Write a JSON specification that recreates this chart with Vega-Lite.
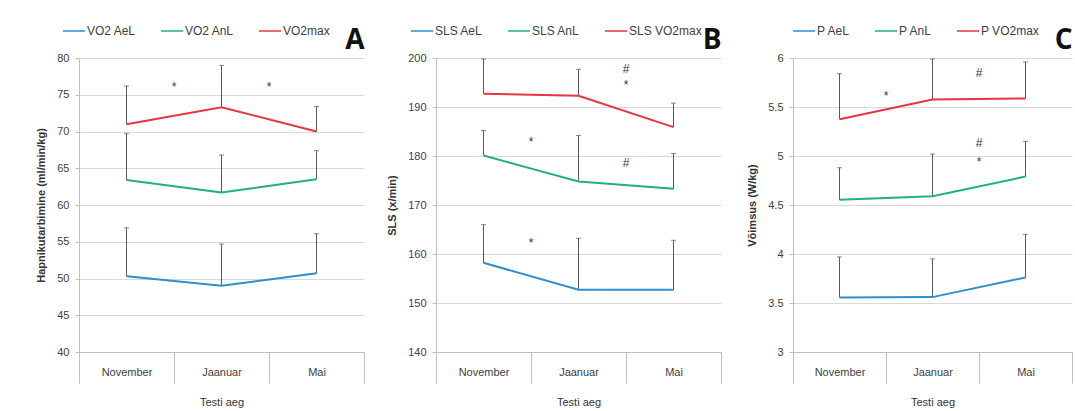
{
  "$schema": "https://vega.github.io/schema/vega-lite/v6.json",
  "padding": {"left": 35, "top": 19, "right": 0, "bottom": 0},
  "background": "white",
  "datasets": {
    "A": [
      {"m": "November", "k": 1, "s": "VO2 AeL", "v": 50.3, "u": 56.9},
      {"m": "Jaanuar", "k": 2, "s": "VO2 AeL", "v": 49.0, "u": 54.7},
      {"m": "Mai", "k": 3, "s": "VO2 AeL", "v": 50.7, "u": 56.1},
      {"m": "November", "k": 1, "s": "VO2 AnL", "v": 63.4, "u": 69.7},
      {"m": "Jaanuar", "k": 2, "s": "VO2 AnL", "v": 61.7, "u": 66.8},
      {"m": "Mai", "k": 3, "s": "VO2 AnL", "v": 63.5, "u": 67.4},
      {"m": "November", "k": 1, "s": "VO2max", "v": 71.0, "u": 76.2},
      {"m": "Jaanuar", "k": 2, "s": "VO2max", "v": 73.3, "u": 79.0},
      {"m": "Mai", "k": 3, "s": "VO2max", "v": 70.0, "u": 73.4}
    ],
    "Aa": [
      {"m": "Jaanuar", "t": "*", "v": 76.0},
      {"m": "Mai", "t": "*", "v": 76.0}
    ],
    "B": [
      {"m": "November", "k": 1, "s": "SLS AeL", "v": 158.2, "u": 166.0},
      {"m": "Jaanuar", "k": 2, "s": "SLS AeL", "v": 152.7, "u": 163.2},
      {"m": "Mai", "k": 3, "s": "SLS AeL", "v": 152.7, "u": 162.8},
      {"m": "November", "k": 1, "s": "SLS AnL", "v": 180.1, "u": 185.2},
      {"m": "Jaanuar", "k": 2, "s": "SLS AnL", "v": 174.8, "u": 184.2},
      {"m": "Mai", "k": 3, "s": "SLS AnL", "v": 173.3, "u": 180.5},
      {"m": "November", "k": 1, "s": "SLS VO2max", "v": 192.7, "u": 199.8},
      {"m": "Jaanuar", "k": 2, "s": "SLS VO2max", "v": 192.3, "u": 197.7},
      {"m": "Mai", "k": 3, "s": "SLS VO2max", "v": 185.9, "u": 190.8}
    ],
    "Ba": [
      {"m": "Jaanuar", "t": "*", "v": 182.9},
      {"m": "Jaanuar", "t": "*", "v": 162.2},
      {"m": "Mai", "t": "#", "v": 197.7},
      {"m": "Mai", "t": "*", "v": 194.5},
      {"m": "Mai", "t": "#", "v": 178.6}
    ],
    "C": [
      {"m": "November", "k": 1, "s": "P AeL", "v": 3.556, "u": 3.97},
      {"m": "Jaanuar", "k": 2, "s": "P AeL", "v": 3.56, "u": 3.95},
      {"m": "Mai", "k": 3, "s": "P AeL", "v": 3.76, "u": 4.2},
      {"m": "November", "k": 1, "s": "P AnL", "v": 4.553, "u": 4.88},
      {"m": "Jaanuar", "k": 2, "s": "P AnL", "v": 4.59, "u": 5.02},
      {"m": "Mai", "k": 3, "s": "P AnL", "v": 4.79, "u": 5.15},
      {"m": "November", "k": 1, "s": "P VO2max", "v": 5.375, "u": 5.84},
      {"m": "Jaanuar", "k": 2, "s": "P VO2max", "v": 5.577, "u": 5.99},
      {"m": "Mai", "k": 3, "s": "P VO2max", "v": 5.587, "u": 5.96}
    ],
    "Ca": [
      {"m": "Jaanuar", "t": "*", "v": 5.61},
      {"m": "Mai", "t": "#", "v": 5.85},
      {"m": "Mai", "t": "#", "v": 5.13},
      {"m": "Mai", "t": "*", "v": 4.94}
    ]
  },
  "bounds": "flush",
  "spacing": 72,
  "resolve": {"scale": {"color": "independent", "y": "independent", "x": "independent"}, "legend": {"color": "independent"}, "axis": {"x": "independent", "y": "independent"}},
  "hconcat": [
    {
      "width": 285,
      "height": 294,
      "title": {"text": "A", "anchor": "end", "fontSize": 28, "fontWeight": "bold", "font": "Open Sans", "color": "#111111", "dy": 40},
      "encoding": {
        "x": {"field": "m", "type": "nominal", "scale": {"domain": ["November", "Jaanuar", "Mai"], "paddingInner": 0, "paddingOuter": 0},
              "axis": {"title": "Testi aeg", "labelAngle": 0, "tickBand": "extent", "tickSize": 31, "labelPadding": -17, "titlePadding": 13, "grid": false}},
        "y": {"field": "v", "type": "quantitative", "scale": {"domain": [40, 80], "nice": false, "zero": false},
              "axis": {"title": "Hapnikutarbimine  (ml/min/kg)", "values": [40, 45, 50, 55, 60, 65, 70, 75, 80], "format": "~r"}}
      },
      "layer": [
        {
          "data": {"name": "A"},
          "mark": {"type": "rule", "color": "#595959", "strokeWidth": 1},
          "encoding": {"y2": {"field": "u"}}
        },
        {
          "data": {"name": "A"},
          "mark": {"type": "tick", "color": "#595959", "size": 5, "thickness": 1, "orient": "horizontal"},
          "encoding": {"y": {"field": "u", "type": "quantitative", "scale": {"domain": [40, 80], "nice": false, "zero": false},
              "axis": {"title": "Hapnikutarbimine  (ml/min/kg)", "values": [40, 45, 50, 55, 60, 65, 70, 75, 80], "format": "~r"}}}
        },
        {
          "data": {"name": "A"},
          "mark": {"type": "line", "strokeWidth": 2},
          "encoding": {
            "color": {"field": "s", "type": "nominal", "scale": {"domain": ["VO2 AeL", "VO2 AnL", "VO2max"], "range": ["#2E8ECF", "#1FB27D", "#E8353E"]},
                      "legend": {"title": null, "orient": "none", "legendX": -17, "legendY": -39, "direction": "horizontal"}},
            "order": {"field": "k"}
          }
        },
        {
          "data": {"name": "Aa"},
          "mark": {"type": "text", "fontSize": 12, "fill": "#333333", "baseline": "middle"},
          "encoding": {
            "x": {"field": "m", "type": "nominal", "bandPosition": 0},
            "text": {"field": "t"}
          }
        }
      ]
    },
    {
      "width": 285,
      "height": 294,
      "title": {"text": "B", "anchor": "end", "fontSize": 28, "fontWeight": "bold", "font": "Open Sans", "color": "#111111", "dy": 40},
      "encoding": {
        "x": {"field": "m", "type": "nominal", "scale": {"domain": ["November", "Jaanuar", "Mai"], "paddingInner": 0, "paddingOuter": 0},
              "axis": {"title": "Testi aeg", "labelAngle": 0, "tickBand": "extent", "tickSize": 31, "labelPadding": -17, "titlePadding": 13, "grid": false}},
        "y": {"field": "v", "type": "quantitative", "scale": {"domain": [140, 200], "nice": false, "zero": false},
              "axis": {"title": "SLS (x/min)", "values": [140, 150, 160, 170, 180, 190, 200], "format": "~r"}}
      },
      "layer": [
        {
          "data": {"name": "B"},
          "mark": {"type": "rule", "color": "#595959", "strokeWidth": 1},
          "encoding": {"y2": {"field": "u"}}
        },
        {
          "data": {"name": "B"},
          "mark": {"type": "tick", "color": "#595959", "size": 5, "thickness": 1, "orient": "horizontal"},
          "encoding": {"y": {"field": "u", "type": "quantitative", "scale": {"domain": [140, 200], "nice": false, "zero": false},
              "axis": {"title": "SLS (x/min)", "values": [140, 150, 160, 170, 180, 190, 200], "format": "~r"}}}
        },
        {
          "data": {"name": "B"},
          "mark": {"type": "line", "strokeWidth": 2},
          "encoding": {
            "color": {"field": "s", "type": "nominal", "scale": {"domain": ["SLS AeL", "SLS AnL", "SLS VO2max"], "range": ["#2E8ECF", "#1FB27D", "#E8353E"]},
                      "legend": {"title": null, "orient": "none", "legendX": -26, "legendY": -39, "direction": "horizontal"}},
            "order": {"field": "k"}
          }
        },
        {
          "data": {"name": "Ba"},
          "mark": {"type": "text", "fontSize": 12, "fill": "#333333", "baseline": "middle"},
          "encoding": {
            "x": {"field": "m", "type": "nominal", "bandPosition": 0},
            "text": {"field": "t"}
          }
        }
      ]
    },
    {
      "width": 279,
      "height": 294,
      "title": {"text": "C", "anchor": "end", "fontSize": 28, "fontWeight": "bold", "font": "Open Sans", "color": "#111111", "dy": 40},
      "encoding": {
        "x": {"field": "m", "type": "nominal", "scale": {"domain": ["November", "Jaanuar", "Mai"], "paddingInner": 0, "paddingOuter": 0},
              "axis": {"title": "Testi aeg", "labelAngle": 0, "tickBand": "extent", "tickSize": 31, "labelPadding": -17, "titlePadding": 13, "grid": false}},
        "y": {"field": "v", "type": "quantitative", "scale": {"domain": [3, 6], "nice": false, "zero": false},
              "axis": {"title": "Võimsus (W/kg)", "values": [3, 3.5, 4, 4.5, 5, 5.5, 6], "format": "~r"}}
      },
      "layer": [
        {
          "data": {"name": "C"},
          "mark": {"type": "rule", "color": "#595959", "strokeWidth": 1},
          "encoding": {"y2": {"field": "u"}}
        },
        {
          "data": {"name": "C"},
          "mark": {"type": "tick", "color": "#595959", "size": 5, "thickness": 1, "orient": "horizontal"},
          "encoding": {"y": {"field": "u", "type": "quantitative", "scale": {"domain": [3, 6], "nice": false, "zero": false},
              "axis": {"title": "Võimsus (W/kg)", "values": [3, 3.5, 4, 4.5, 5, 5.5, 6], "format": "~r"}}}
        },
        {
          "data": {"name": "C"},
          "mark": {"type": "line", "strokeWidth": 2},
          "encoding": {
            "color": {"field": "s", "type": "nominal", "scale": {"domain": ["P AeL", "P AnL", "P VO2max"], "range": ["#2E8ECF", "#1FB27D", "#E8353E"]},
                      "legend": {"title": null, "orient": "none", "legendX": -1, "legendY": -39, "direction": "horizontal"}},
            "order": {"field": "k"}
          }
        },
        {
          "data": {"name": "Ca"},
          "mark": {"type": "text", "fontSize": 12, "fill": "#333333", "baseline": "middle"},
          "encoding": {
            "x": {"field": "m", "type": "nominal", "bandPosition": 0},
            "text": {"field": "t"}
          }
        }
      ]
    }
  ],
  "config": {
    "font": "Liberation Sans",
    "view": {"stroke": null},
    "axis": {
      "labelFont": "Liberation Sans", "labelFontSize": 11, "labelColor": "#404040",
      "titleFont": "Liberation Sans", "titleFontSize": 11, "titleColor": "#333333", "titleFontWeight": "normal",
      "gridColor": "#D9D9D9", "domainColor": "#BFBFBF", "tickColor": "#BFBFBF"
    },
    "axisY": {"titleFontWeight": "bold", "tickSize": 4, "labelPadding": 6, "grid": true, "titlePadding": 10},
    "legend": {
      "labelFont": "Liberation Sans", "labelFontSize": 12, "labelColor": "#404040",
      "symbolType": "stroke", "symbolStrokeWidth": 1.5, "symbolSize": 484, "columnPadding": 22, "symbolOffset": 0, "labelOffset": 1
    }
  }
}
